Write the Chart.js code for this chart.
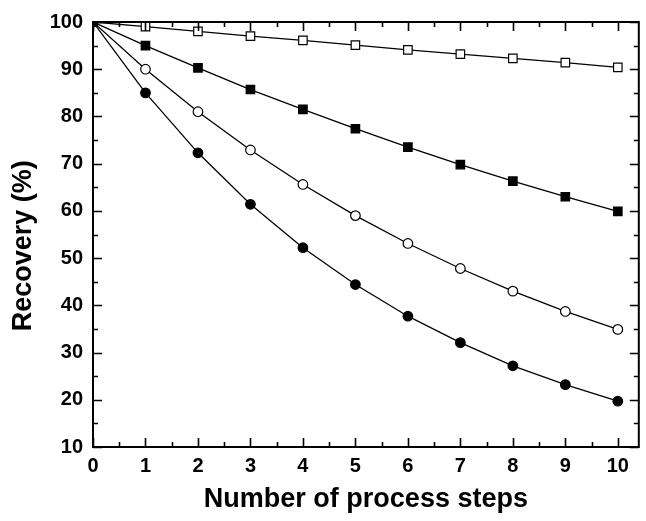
<!DOCTYPE html>
<html>
<head>
<meta charset="utf-8">
<script src="https://cdn.jsdelivr.net/npm/chart.js@4"></script>
<style>
  html, body { margin: 0; padding: 0; background: #fff; }
  #wrap { width: 646px; height: 521px; }
</style>
</head>
<body>
<div id="wrap"><canvas id="chart" width="646" height="521"></canvas></div>
<script>
    "use strict";

    // process steps (x) and recovery values (%)
    var steps = [0, 1, 2, 3, 4, 5, 6, 7, 8, 9, 10];
    var rec99 = [100, 99.0, 98.0, 97.0, 96.1, 95.1, 94.1, 93.2, 92.3, 91.4, 90.4];
    var rec95 = [100, 95.0, 90.3, 85.7, 81.5, 77.4, 73.5, 69.8, 66.3, 63.0, 59.9];
    var rec90 = [100, 90.0, 81.0, 72.9, 65.6, 59.0, 53.1, 47.8, 43.0, 38.7, 34.9];
    var rec85 = [100, 85.0, 72.3, 61.4, 52.2, 44.4, 37.7, 32.1, 27.2, 23.2, 19.7];
    var xTicks = [0, 1, 2, 3, 4, 5, 6, 7, 8, 9, 10];
    var yTicks = [10, 20, 30, 40, 50, 60, 70, 80, 90, 100];

    var FONT = "'Liberation Sans', Arial, sans-serif";

    function points(values) {
        return steps.map(function (s, i) {
            return { x: s, y: values[i] };
        });
    }

    function series(values, style, fill, radius) {
        return {
            data: points(values),
            borderColor: "#000",
            borderWidth: 1.3,
            pointStyle: style,
            pointRadius: radius,
            pointHoverRadius: radius,
            pointBackgroundColor: fill,
            pointBorderColor: "#000",
            pointBorderWidth: 1.2,
            tension: 0,
        };
    }

    // frame and inward ticks on all four sides
    var frameTicks = {
        id: "frameTicks",
        afterDatasetsDraw: function (chart) {
            var ctx = chart.ctx;
            var a = chart.chartArea;
            var xs = chart.scales.x;
            var ys = chart.scales.y;
            ctx.save();
            ctx.strokeStyle = "#000";
            ctx.lineWidth = 1.6;
            ctx.beginPath();
            var v, len, px, py;
            for (v = 0; v <= xs.max + 1e-9; v += 0.5) {
                px = Math.round(xs.getPixelForValue(v)) + 0.5;
                len = (v % 1 === 0) ? 9 : 5;
                ctx.moveTo(px, a.bottom);
                ctx.lineTo(px, a.bottom - len);
                ctx.moveTo(px, a.top);
                ctx.lineTo(px, a.top + len);
            }
            for (v = ys.min; v <= ys.max + 1e-9; v += 5) {
                py = Math.round(ys.getPixelForValue(v)) + 0.5;
                len = (v % 10 === 0) ? 9 : 5;
                ctx.moveTo(a.left, py);
                ctx.lineTo(a.left + len, py);
                ctx.moveTo(a.right, py);
                ctx.lineTo(a.right - len, py);
            }
            ctx.stroke();
            ctx.lineWidth = 2;
            ctx.strokeRect(a.left, a.top, a.right - a.left, a.bottom - a.top);
            ctx.restore();
        },
    };

    new Chart(document.getElementById("chart"), {
        type: "line",
        data: {
            datasets: [
                series(rec85, "circle", "#000", 4.8),
                series(rec90, "circle", "#fff", 4.8),
                series(rec95, "rect", "#000", 6),
                series(rec99, "rect", "#fff", 6),
            ],
        },
        options: {
            responsive: false,
            animation: false,
            events: [],
            layout: {
                padding: { top: 19, right: 3, left: 0, bottom: 0 },
            },
            plugins: {
                legend: { display: false },
                tooltip: { enabled: false },
            },
            scales: {
                x: {
                    type: "linear",
                    min: 0,
                    max: 10.4,
                    afterBuildTicks: function (scale) {
                        scale.ticks = xTicks.map(function (t) {
                            return { value: t };
                        });
                    },
                    afterFit: function (scale) {
                        scale.height = 74;
                    },
                    grid: { display: false, drawTicks: false },
                    border: { display: false },
                    ticks: {
                        color: "#000",
                        padding: 7,
                        maxRotation: 0,
                        autoSkip: false,
                        font: { family: FONT, size: 20, weight: "bold" },
                    },
                    title: {
                        display: true,
                        text: "Number of process steps",
                        color: "#000",
                        padding: { top: 0, bottom: 5 },
                        font: { family: FONT, size: 27, weight: "bold" },
                    },
                },
                y: {
                    type: "linear",
                    min: 10,
                    max: 100,
                    afterBuildTicks: function (scale) {
                        scale.ticks = yTicks.map(function (t) {
                            return { value: t };
                        });
                    },
                    afterFit: function (scale) {
                        scale.width = 93;
                    },
                    grid: { display: false, drawTicks: false },
                    border: { display: false },
                    ticks: {
                        color: "#000",
                        padding: 10,
                        autoSkip: false,
                        font: { family: FONT, size: 20, weight: "bold" },
                    },
                    title: {
                        display: true,
                        // trailing spaces push the rotated text a little lower, as in the original
                        text: "Recovery (%)   ",
                        color: "#000",
                        padding: { top: 7, bottom: 0 },
                        font: { family: FONT, size: 27, weight: "bold" },
                    },
                },
            },
        },
        plugins: [frameTicks],
    });
</script>
</body>
</html>
